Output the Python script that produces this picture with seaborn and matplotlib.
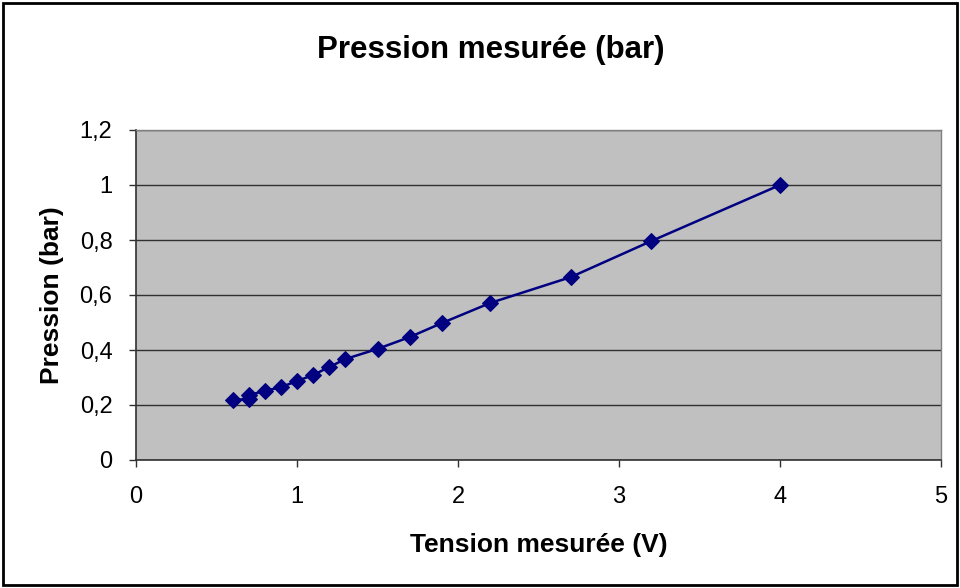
import matplotlib
matplotlib.use("Agg")
import matplotlib.pyplot as plt
from matplotlib.ticker import FuncFormatter, MultipleLocator
from matplotlib.patches import Rectangle
import seaborn as sns
import pandas as pd

tension = [0.6, 0.7, 0.7, 0.8, 0.9, 1.0, 1.1, 1.2, 1.3, 1.5, 1.7, 1.9, 2.2, 2.7, 3.2, 4.0]
pression = [0.218, 0.222, 0.236, 0.251, 0.265, 0.287, 0.309, 0.338, 0.367, 0.404,
            0.447, 0.498, 0.571, 0.665, 0.796, 1.0]
title = "Pression mesurée (bar)"
xlabel = "Tension mesurée (V)"
ylabel = "Pression (bar)"

df = pd.DataFrame({"x": tension, "y": pression})

sns.set_theme(style="white")
plt.rcParams["font.family"] = ["Liberation Sans", "DejaVu Sans"]
plt.rcParams["text.color"] = "black"
plt.rcParams["axes.labelcolor"] = "black"

fig = plt.figure(figsize=(9.6, 5.88), dpi=100)
L, R, T, B = 136, 941, 130, 460
ax = fig.add_axes([L / 960, 1 - B / 588, (R - L) / 960, (B - T) / 588])
ax.set_facecolor("#C0C0C0")

sns.lineplot(data=df, x="x", y="y", sort=False, estimator=None, ax=ax,
             color="#000080", linewidth=1.8, marker="D", markersize=8.5,
             markeredgecolor="#000080", markerfacecolor="#000080", zorder=3)

ax.set_xlim(0, 5)
ax.set_ylim(0, 1.2)
ax.xaxis.set_major_locator(MultipleLocator(1))
ax.yaxis.set_major_locator(MultipleLocator(0.2))
fmt = FuncFormatter(lambda v, p: ("%g" % round(v, 2)).replace(".", ","))
ax.xaxis.set_major_formatter(fmt)
ax.yaxis.set_major_formatter(fmt)
ax.grid(axis="y", color="#303030", linewidth=1)
ax.grid(axis="x", visible=False)
ax.set_axisbelow(True)
for side in ["right", "top"]:
    ax.spines[side].set_color("#808080")
    ax.spines[side].set_linewidth(1)
for side in ["left", "bottom"]:
    ax.spines[side].set_color("#303030")
    ax.spines[side].set_linewidth(1.2)
ax.tick_params(axis="both", direction="out", length=5, width=1, color="#303030",
               labelsize=17, labelcolor="black", bottom=True, left=True)
ax.tick_params(axis="x", pad=14)
ax.tick_params(axis="y", pad=12)

ax.set_xlabel(xlabel, fontsize=19, fontweight="bold", color="black", va="center")
ax.set_ylabel(ylabel, fontsize=19, fontweight="bold", color="black", va="center")
ax.xaxis.set_label_coords(0.5, (B - 545) / (B - T))
ax.yaxis.set_label_coords((52 - L) / (R - L), 0.5)
fig.text(491 / 960, 1 - 50 / 588, title, ha="center", va="center", fontsize=22.5,
         fontweight="bold", color="black")

fig.patches.append(Rectangle((3 / 960, 3 / 588), 954 / 960, 582 / 588, transform=fig.transFigure,
                             fill=False, edgecolor="black", linewidth=2))

fig.savefig("out.png", dpi=100)
